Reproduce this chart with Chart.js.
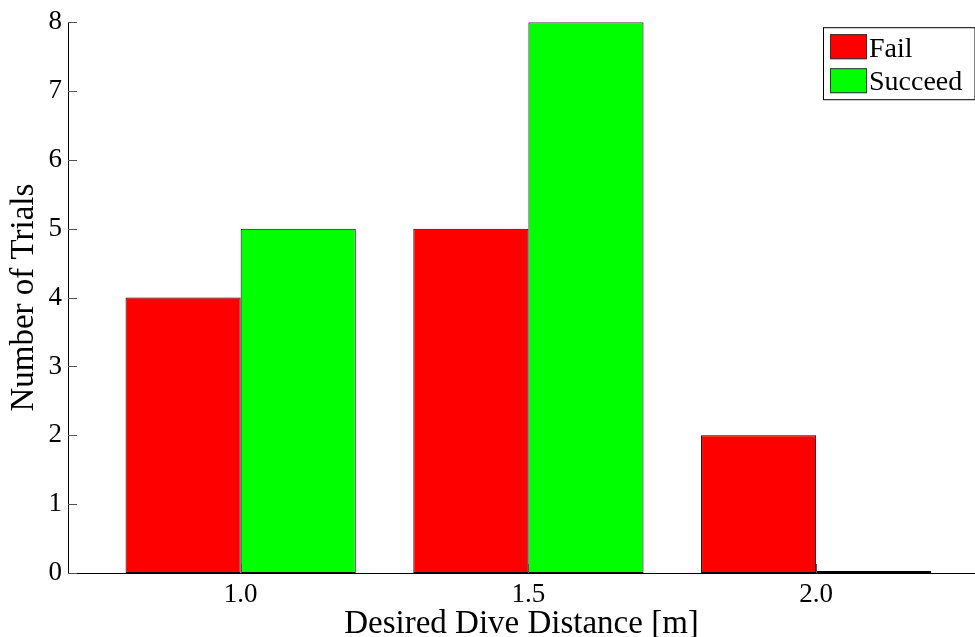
<!DOCTYPE html>
<html lang="en">
<head>
    <meta charset="UTF-8">
    <title>Desired Dive Distance</title>
    <script src="https://cdn.jsdelivr.net/npm/chart.js"></script>
    <style>
        body {
            margin: 0;
            background-color: #ffffff;
        }

        #chart-container {
            width: 975px;
            height: 637px;
        }
    </style>
</head>
<body>
    <div id="chart-container">
        <canvas id="diveChart"></canvas>
    </div>

    <script>
        // Data
        const categories = [1.0, 1.5, 2.0];
        const failValues = [4, 5, 2];
        const succeedValues = [5, 8, 0];
        const yTicks = [0, 1, 2, 3, 4, 5, 6, 7, 8];

        const serif = "'Liberation Serif', 'DejaVu Serif', serif";

        // Tick marks pointing into the plot (MATLAB style)
        const innerTicks = {
            id: 'innerTicks',
            afterDraw(chart) {
                const ctx = chart.ctx;
                const area = chart.chartArea;
                const x = chart.scales.x;
                const y = chart.scales.y;
                ctx.save();
                ctx.strokeStyle = '#555555';
                ctx.lineWidth = 1;
                ctx.beginPath();
                yTicks.forEach(v => {
                    const py = Math.round(y.getPixelForValue(v)) + 0.5;
                    ctx.moveTo(area.left, py);
                    ctx.lineTo(area.left + 9, py);
                });
                categories.forEach(v => {
                    const px = Math.round(x.getPixelForValue(v)) + 0.5;
                    ctx.moveTo(px, area.bottom);
                    ctx.lineTo(px, area.bottom - 9);
                });
                ctx.stroke();
                ctx.restore();
            }
        };

        // Boxed legend in the top right corner
        const boxLegend = {
            id: 'boxLegend',
            afterDraw(chart) {
                const ctx = chart.ctx;
                const area = chart.chartArea;
                const left = 823, top = area.top + 5;
                const right = area.right - 0.5;
                ctx.save();
                ctx.fillStyle = '#ffffff';
                ctx.fillRect(left, top, right - left, 72);
                ctx.strokeStyle = '#000000';
                ctx.lineWidth = 1;
                ctx.strokeRect(left + 0.5, top + 0.5, right - left, 72);
                ctx.font = '28px ' + serif;
                ctx.textBaseline = 'alphabetic';
                chart.data.datasets.forEach((ds, i) => {
                    const sy = top + 7 + i * 34;
                    ctx.fillStyle = ds.backgroundColor;
                    ctx.fillRect(830, sy, 37, 25);
                    ctx.strokeStyle = '#333333';
                    ctx.strokeRect(830.5, sy + 0.5, 36, 24);
                    ctx.fillStyle = '#000000';
                    ctx.fillText(ds.label, 869, top + 30 + i * 33);
                });
                ctx.restore();
            }
        };

        const config = {
            type: 'bar',
            data: {
                datasets: [{
                    label: 'Fail',
                    data: categories.map((c, i) => ({ x: c, y: failValues[i] })),
                    backgroundColor: '#ff0000',
                    borderColor: '#000000',
                    borderWidth: 1,
                    borderSkipped: false,
                    inflateAmount: 0
                }, {
                    label: 'Succeed',
                    data: categories.map((c, i) => ({ x: c, y: succeedValues[i] })),
                    backgroundColor: '#00ff00',
                    borderColor: '#000000',
                    borderWidth: 1,
                    borderSkipped: false,
                    inflateAmount: 0,
                    minBarLength: 2
                }]
            },
            options: {
                responsive: true,
                maintainAspectRatio: false,
                animation: false,
                layout: { padding: { top: 20, right: 0, left: 0, bottom: 0 } },
                datasets: {
                    bar: { categoryPercentage: 0.8, barPercentage: 1.0 }
                },
                plugins: {
                    legend: { display: false },
                    tooltip: { enabled: false }
                },
                scales: {
                    x: {
                        type: 'linear',
                        min: 0.7,
                        max: 2.276,
                        offset: false,
                        afterBuildTicks: scale => {
                            scale.ticks = categories.map(v => ({ value: v }));
                        },
                        afterFit: scale => { scale.height = 64; },
                        grid: { display: false, drawTicks: false },
                        border: { display: true, color: '#000000', width: 1 },
                        ticks: {
                            color: '#000000',
                            padding: 6,
                            font: { family: serif, size: 27 },
                            callback: v => Number(v).toFixed(1)
                        },
                        title: {
                            display: true,
                            text: 'Desired Dive Distance [m]',
                            color: '#000000',
                            padding: { top: 0, bottom: -7 },
                            font: { family: serif, size: 33 }
                        }
                    },
                    y: {
                        min: 0,
                        max: 8,
                        afterBuildTicks: scale => {
                            scale.ticks = yTicks.map(v => ({ value: v }));
                        },
                        afterFit: scale => { scale.width = 68; },
                        grid: { display: false, drawTicks: false },
                        border: { display: true, color: '#000000', width: 1 },
                        ticks: {
                            color: '#000000',
                            padding: 6,
                            font: { family: serif, size: 27 }
                        },
                        title: {
                            display: true,
                            text: 'Number of Trials',
                            color: '#000000',
                            padding: { top: 5, bottom: 0 },
                            font: { family: serif, size: 33 }
                        }
                    }
                }
            },
            plugins: [innerTicks, boxLegend]
        };

        new Chart(document.getElementById('diveChart'), config);
    </script>
</body>
</html>
